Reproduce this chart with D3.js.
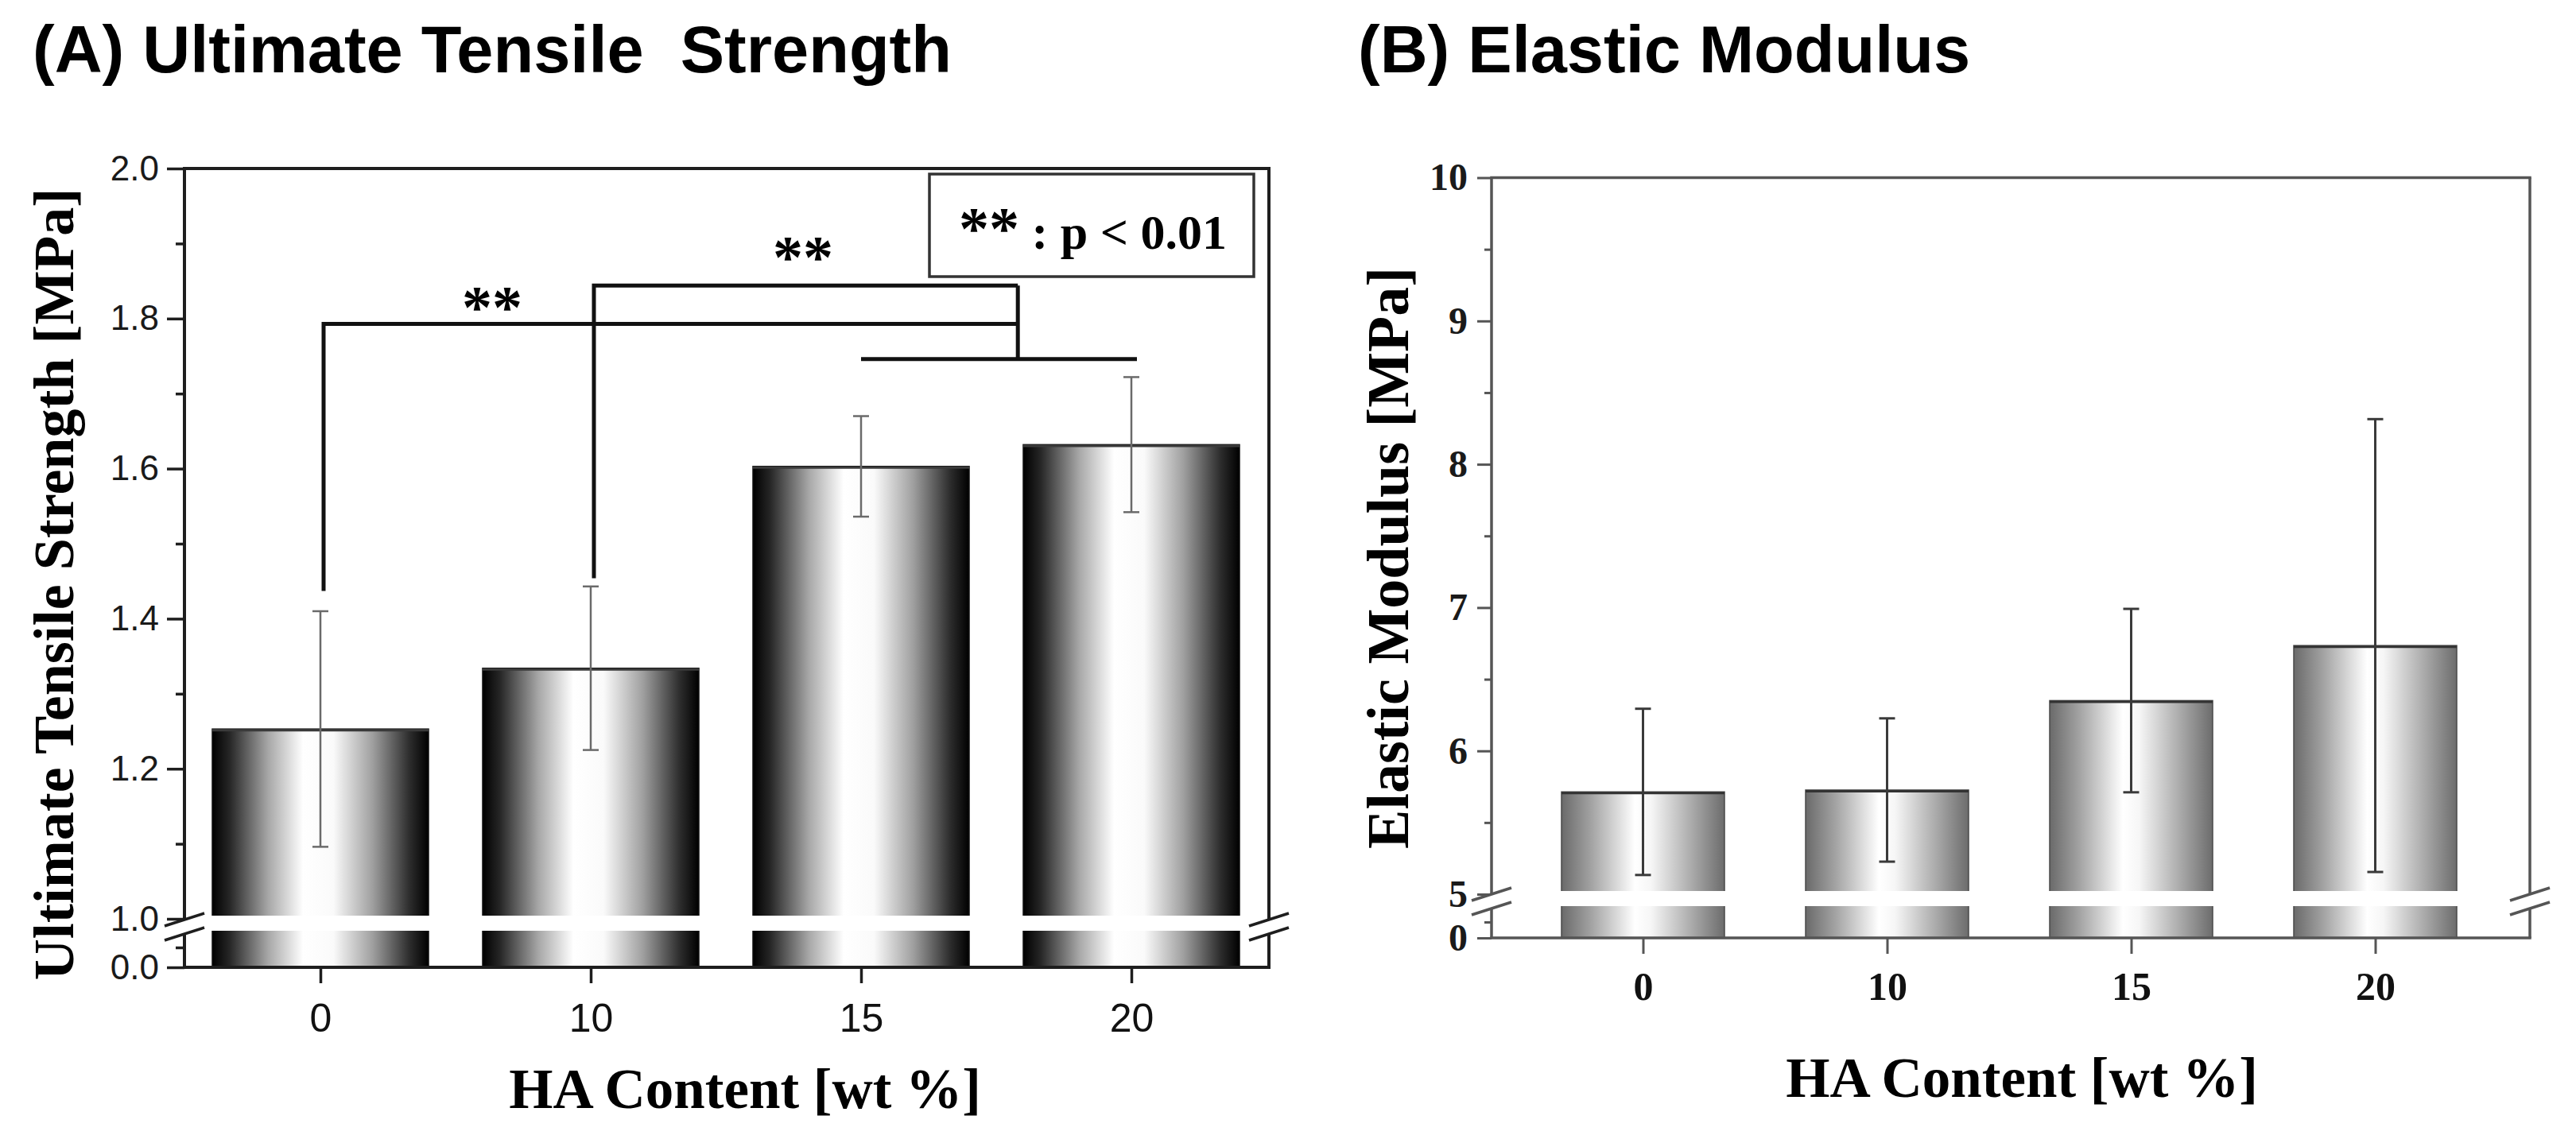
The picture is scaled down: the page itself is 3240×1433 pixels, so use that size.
<!DOCTYPE html>
<html>
<head>
<meta charset="utf-8">
<script src="https://cdn.jsdelivr.net/npm/d3@7"></script>
<style>
  body { margin: 0; background: #fff; }
  text { white-space: pre; }
</style>
</head>
<body>
<script>
// categories (HA content, wt %)
var haContent = ["0", "10", "15", "20"];

// (A) ultimate tensile strength [MPa]
var utsMean = [1.253, 1.334, 1.603, 1.632];
var utsErr  = [0.157, 0.109, 0.067, 0.090];
var utsTicks = [1.0, 1.2, 1.4, 1.6, 1.8, 2.0];
var utsMinor = [1.1, 1.3, 1.5, 1.7, 1.9];

// (B) elastic modulus [MPa]
var modMean = [5.714, 5.727, 6.351, 6.735];
var modErr  = [0.58, 0.50, 0.64, 1.58];
var modTicks = [5, 6, 7, 8, 9, 10];
var modMinor = [5.5, 6.5, 7.5, 8.5, 9.5];

// significance brackets of panel A (from group -> joined 15/20)
var sigFrom  = ["0", "10"];
var sigTop   = [1.793, 1.844];
var sigFoot  = [1.437, 1.454];
var sigStarY = [1.788, 1.855];
var sigStarX = [0.635, 0.785];   // star position, in steps past the group
var sigJoinY = 1.746;
var sigStars = "**";
var sigLegend = " : p < 0.01";

var SANS = "'Liberation Sans', Arial, sans-serif";
var SERIF = "'Liberation Serif', 'Times New Roman', serif";

function addGradient(defs, id, stops) {
  var lg = defs.append("linearGradient")
    .attr("id", id)
    .attr("x1", 0).attr("x2", 1).attr("y1", 0).attr("y2", 0);
  stops.forEach(function (s) {
    lg.append("stop").attr("offset", s[0]).attr("stop-color", s[1]);
  });
}

function drawPanel(svg, p) {
  var x = d3.scalePoint().domain(haContent).range(p.xRange).padding(0.5);
  var yUp = d3.scaleLinear().domain(p.upDomain).range(p.upRange);
  var yLo = d3.scaleLinear().domain([0, p.upDomain[0]]).range(p.loRange);
  var g = svg.append("g");
  var f = p.frame; // [left, right, top, bottom]

  // bars
  g.selectAll("rect.bar")
    .data(p.mean)
    .enter()
    .append("rect")
    .attr("x", (d, i) => x(haContent[i]) - p.barW / 2)
    .attr("y", d => yUp(d))
    .attr("width", p.barW)
    .attr("height", d => yLo(0) - yUp(d))
    .attr("fill", "url(#" + p.grad + ")")
    .attr("stroke", p.barEdge)
    .attr("stroke-width", 1.5);

  // bar top edge
  g.selectAll("line.top")
    .data(p.mean)
    .enter()
    .append("line")
    .attr("x1", (d, i) => x(haContent[i]) - p.barW / 2)
    .attr("x2", (d, i) => x(haContent[i]) + p.barW / 2)
    .attr("y1", d => yUp(d) + 1.5)
    .attr("y2", d => yUp(d) + 1.5)
    .attr("stroke", p.topEdge)
    .attr("stroke-width", 3);

  // white break band across the bars
  g.append("rect")
    .attr("x", f[0] - 2)
    .attr("y", p.gap[0])
    .attr("width", f[1] - f[0] + 4)
    .attr("height", p.gap[1] - p.gap[0])
    .attr("fill", "#fff");

  // error bars
  var eb = g.selectAll("g.err")
    .data(p.mean)
    .enter()
    .append("g")
    .attr("stroke", p.errColor)
    .attr("stroke-width", p.errWidth);
  eb.append("line")
    .attr("x1", (d, i) => x(haContent[i]))
    .attr("x2", (d, i) => x(haContent[i]))
    .attr("y1", (d, i) => yUp(d + p.err[i]))
    .attr("y2", (d, i) => yUp(d - p.err[i]));
  [1, -1].forEach(function (s) {
    eb.append("line")
      .attr("x1", (d, i) => x(haContent[i]) - 10)
      .attr("x2", (d, i) => x(haContent[i]) + 10)
      .attr("y1", (d, i) => yUp(d + s * p.err[i]))
      .attr("y2", (d, i) => yUp(d + s * p.err[i]));
  });

  // frame with axis breaks
  var fr = g.append("g")
    .attr("stroke", p.axisColor)
    .attr("stroke-width", p.axisWidth)
    .attr("fill", "none");
  fr.append("line").attr("x1", f[0] - p.axisWidth / 2).attr("x2", f[1] + p.axisWidth / 2)
    .attr("y1", f[2]).attr("y2", f[2]);
  fr.append("line").attr("x1", f[0] - p.axisWidth / 2).attr("x2", f[1] + p.axisWidth / 2)
    .attr("y1", f[3]).attr("y2", f[3]);
  [f[0], f[1]].forEach(function (ax) {
    fr.append("line").attr("x1", ax).attr("x2", ax)
      .attr("y1", f[2]).attr("y2", p.breakY[0]);
    fr.append("line").attr("x1", ax).attr("x2", ax)
      .attr("y1", p.breakY[1]).attr("y2", f[3]);
    p.breakY.forEach(function (b) {
      fr.append("line")
        .attr("x1", ax - 25).attr("y1", b + 8)
        .attr("x2", ax + 25).attr("y2", b - 8)
        .attr("stroke-width", 3.5);
    });
  });

  // y axes (upper + lower segment), major and minor ticks
  function styleAxis(sel, font, size, weight, color) {
    sel.select(".domain").remove();
    sel.selectAll(".tick line")
      .attr("stroke", p.axisColor)
      .attr("stroke-width", p.tickWidth);
    sel.selectAll(".tick text")
      .attr("font-family", font)
      .attr("font-size", size)
      .attr("font-weight", weight)
      .attr("fill", color);
  }
  var yAxisUp = d3.axisLeft(yUp)
    .tickValues(p.ticks)
    .tickSize(p.tickLen)
    .tickPadding(p.yPad)
    .tickFormat(p.fmt);
  g.append("g")
    .attr("transform", "translate(" + f[0] + ",0)")
    .call(yAxisUp)
    .call(s => styleAxis(s, p.yFont, p.yFontSize, p.yWeight, "#1a1a1a"));
  g.append("g")
    .attr("transform", "translate(" + f[0] + ",0)")
    .call(d3.axisLeft(yUp).tickValues(p.minor).tickSize(p.tickLen / 2).tickFormat(""))
    .call(s => styleAxis(s, p.yFont, p.yFontSize, p.yWeight, "#1a1a1a"));
  g.append("g")
    .attr("transform", "translate(" + f[0] + ",0)")
    .call(d3.axisLeft(yLo).tickValues([0]).tickSize(p.tickLen).tickPadding(p.yPad).tickFormat(p.fmt))
    .call(s => styleAxis(s, p.yFont, p.yFontSize, p.yWeight, "#1a1a1a"));
  g.append("g")
    .attr("transform", "translate(" + f[0] + ",0)")
    .call(d3.axisLeft(yLo).tickValues([p.upDomain[0] / 2]).tickSize(p.tickLen / 2).tickFormat(""))
    .call(s => styleAxis(s, p.yFont, p.yFontSize, p.yWeight, "#1a1a1a"));

  // x axis
  g.append("g")
    .attr("transform", "translate(0," + f[3] + ")")
    .call(d3.axisBottom(x).tickSize(20).tickPadding(p.xPad))
    .call(s => styleAxis(s, p.xFont, p.xFontSize, p.xWeight, "#111"));

  // axis titles
  g.append("text")
    .attr("transform", "translate(" + p.yTitlePos[0] + "," + p.yTitlePos[1] + ") rotate(-90)")
    .attr("text-anchor", "middle")
    .attr("font-family", SERIF)
    .attr("font-weight", "bold")
    .attr("font-size", p.yTitleSize)
    .text(p.yTitle);
  g.append("text")
    .attr("x", p.xTitlePos[0])
    .attr("y", p.xTitlePos[1])
    .attr("text-anchor", "middle")
    .attr("font-family", SERIF)
    .attr("font-weight", "bold")
    .attr("font-size", 71)
    .text("HA Content [wt %]");

  // panel title
  g.append("text")
    .attr("x", p.titlePos[0])
    .attr("y", p.titlePos[1])
    .attr("font-family", SANS)
    .attr("font-weight", "bold")
    .attr("font-size", 83)
    .text(p.title);

  return { g: g, x: x, y: yUp };
}

function drawSignificance(panel) {
  var g = panel.g, x = panel.x, y = panel.y;
  var step = x.step();
  var joinX = x("15") + 0.58 * step;
  var br = g.append("g")
    .attr("stroke", "#111")
    .attr("stroke-width", 5)
    .attr("fill", "none");
  sigFrom.forEach(function (c, i) {
    var x0 = x(c) + 4;
    br.append("path")
      .attr("d", "M" + x0 + "," + y(sigFoot[i]) +
                 "V" + y(sigTop[i]) + "H" + joinX);
    g.append("text")
      .attr("x", x(c) + sigStarX[i] * step)
      .attr("y", y(sigStarY[i]))
      .attr("text-anchor", "middle")
      .attr("font-family", SERIF)
      .attr("font-weight", "bold")
      .attr("font-size", 76)
      .text(sigStars);
  });
  br.append("path")
    .attr("d", "M" + joinX + "," + y(d3.max(sigTop)) + "V" + y(sigJoinY));
  br.append("path")
    .attr("d", "M" + x("15") + "," + y(sigJoinY) + "H" + (x("20") + 7));

  // legend box
  g.append("rect")
    .attr("x", 1169).attr("y", 219)
    .attr("width", 408).attr("height", 129)
    .attr("fill", "#fff")
    .attr("stroke", "#333")
    .attr("stroke-width", 3.5);
  var lt = g.append("text")
    .attr("x", 1206).attr("y", 313)
    .attr("font-family", SERIF)
    .attr("font-weight", "bold")
    .attr("font-size", 62);
  lt.append("tspan").attr("font-size", 76).text(sigStars);
  lt.append("tspan").text(sigLegend);
}

function main() {
  var svg = d3.select("body")
    .append("svg")
    .attr("width", 3240)
    .attr("height", 1433);
  svg.append("rect").attr("width", 3240).attr("height", 1433).attr("fill", "#fff");

  var defs = svg.append("defs");
  addGradient(defs, "gradA", [
    [0, "#000"], [0.08, "#262626"], [0.26, "#a8a8a8"], [0.42, "#fff"],
    [0.56, "#fafafa"], [0.74, "#a0a0a0"], [0.91, "#2e2e2e"], [1, "#000"]
  ]);
  addGradient(defs, "gradB", [
    [0, "#6a6a6a"], [0.18, "#a2a2a2"], [0.45, "#fff"],
    [0.55, "#f6f6f6"], [0.82, "#a4a4a4"], [1, "#6c6c6c"]
  ]);

  var panelA = drawPanel(svg, {
    frame: [232, 1596, 212, 1217],
    xRange: [233, 1593],
    barW: 272,
    mean: utsMean, err: utsErr,
    upDomain: [1.0, 2.0], upRange: [1156, 212],
    loRange: [1217, 1167],
    gap: [1152, 1171], breakY: [1157, 1175],
    ticks: utsTicks, minor: utsMinor,
    fmt: d3.format(".1f"),
    grad: "gradA", barEdge: "#111", topEdge: "#3a3a3a",
    errColor: "#6a6a6a", errWidth: 2.5,
    axisColor: "#1e1e1e", axisWidth: 4, tickWidth: 3.5, tickLen: 22,
    yFont: SANS, yFontSize: 44, yWeight: "normal", yPad: 10,
    xFont: SANS, xFontSize: 50, xWeight: "normal", xPad: 25,
    yTitle: "Ultimate Tensile Strength [MPa]", yTitleSize: 72, yTitlePos: [92, 735],
    xTitlePos: [937, 1394],
    title: "(A) Ultimate Tensile  Strength", titlePos: [41, 91]
  });
  drawSignificance(panelA);

  drawPanel(svg, {
    frame: [1876, 3182, 223.5, 1180],
    xRange: [1913, 3141],
    barW: 205,
    mean: modMean, err: modErr,
    upDomain: [5, 10], upRange: [1125, 223.5],
    loRange: [1180, 1140],
    gap: [1121, 1140], breakY: [1125, 1143],
    ticks: modTicks, minor: modMinor,
    fmt: d3.format("d"),
    grad: "gradB", barEdge: "#4a4a4a", topEdge: "#333",
    errColor: "#3a3a3a", errWidth: 3,
    axisColor: "#555", axisWidth: 3.5, tickWidth: 3, tickLen: 18,
    yFont: SERIF, yFontSize: 48, yWeight: "bold", yPad: 12,
    xFont: SERIF, xFontSize: 50, xWeight: "bold", xPad: 22,
    yTitle: "Elastic Modulus [MPa]", yTitleSize: 74, yTitlePos: [1771, 702],
    xTitlePos: [2543, 1380],
    title: "(B) Elastic Modulus", titlePos: [1708, 91]
  });
}

window.onload = function () {
  main();
};
</script>
</body>
</html>
